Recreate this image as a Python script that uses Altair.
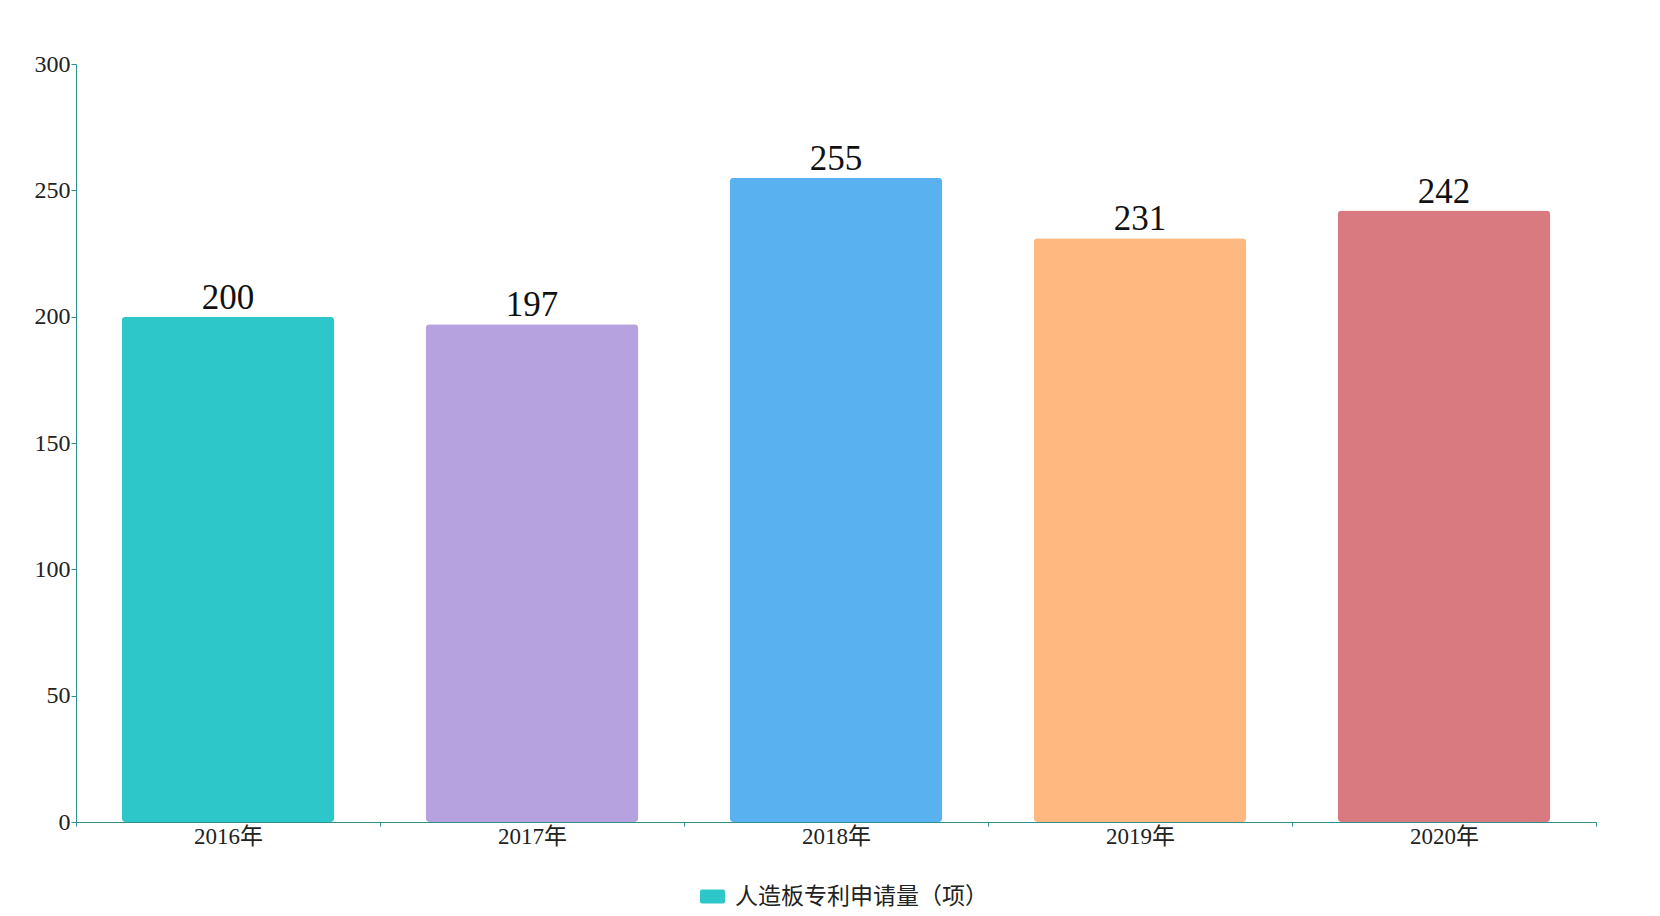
import altair as alt
import pandas as pd

years = ["2016年", "2017年", "2018年", "2019年", "2020年"]
values = [200, 197, 255, 231, 242]
colors = ["#2EC7C9", "#B6A2DE", "#5AB1EF", "#FFB980", "#D87A80"]
series_name = "人造板专利申请量（项）"

df = pd.DataFrame({"year": years, "value": values, "color": colors, "series": [series_name] * len(years)})
df["half"] = df["value"] / 2

axis_color = "#2f8f8f"
font = "Liberation Serif, Noto Sans CJK SC"

x_axis = alt.Axis(labelAngle=0, tickBand="extent", domainColor=axis_color, tickColor=axis_color,
                  labelFontSize=23, labelFont=font, labelColor="#222", tickSize=4, labelPadding=-1)
y_axis = alt.Axis(values=[0, 50, 100, 150, 200, 250, 300], grid=False, domainColor=axis_color,
                  tickColor=axis_color, labelFontSize=24, labelFont=font, labelColor="#222",
                  tickSize=5, labelPadding=1)
x_scale = alt.Scale(paddingInner=0, paddingOuter=0)
y_scale = alt.Scale(domain=[0, 300])

def X():
    return alt.X("year:N", sort=years, title=None, scale=x_scale, axis=x_axis)

rounded = ("M-0.84,-0.56 L0.84,-0.56 Q1,-0.56 1,-0.4 L1,0.4 Q1,0.56 0.84,0.56 "
           "L-0.84,0.56 Q-1,0.56 -1,0.4 L-1,-0.4 Q-1,-0.56 -0.84,-0.56 Z")

legend_layer = alt.Chart(df).mark_point(filled=True, opacity=1).encode(
    x=X(), y=alt.Y("half:Q", title=None, scale=y_scale, axis=y_axis),
    color=alt.Color("series:N", scale=alt.Scale(range=["#2EC7C9"]),
                    legend=alt.Legend(title=None, orient="none", legendX=624, legendY=820,
                                      symbolType=rounded, symbolSize=625, symbolStrokeWidth=0,
                                      labelFontSize=23, labelLimit=0,
                                      labelFont="Noto Sans CJK SC", labelColor="#222", labelOffset=10))
)

bars = alt.Chart(df).mark_bar(cornerRadius=4, width=alt.RelativeBandSize(0.7)).encode(
    x=X(), y=alt.Y("value:Q", title=None, scale=y_scale, axis=y_axis),
    fill=alt.Fill("color:N", scale=None)
)

labels = alt.Chart(df).mark_text(baseline="bottom", dy=-1, fontSize=35, font=font, color="#111").encode(
    x=X(), y=alt.Y("value:Q", title=None, scale=y_scale, axis=y_axis), text="value:Q"
)

chart = alt.layer(legend_layer, bars, labels).properties(
    width=1520, height=758,
    autosize=alt.AutoSizeParams(type="none"),
    padding={"left": 68, "top": 56, "right": 40, "bottom": 90},
).configure_view(stroke=None)

chart.save("out.html", embed_options={"renderer": "svg", "actions": False})
